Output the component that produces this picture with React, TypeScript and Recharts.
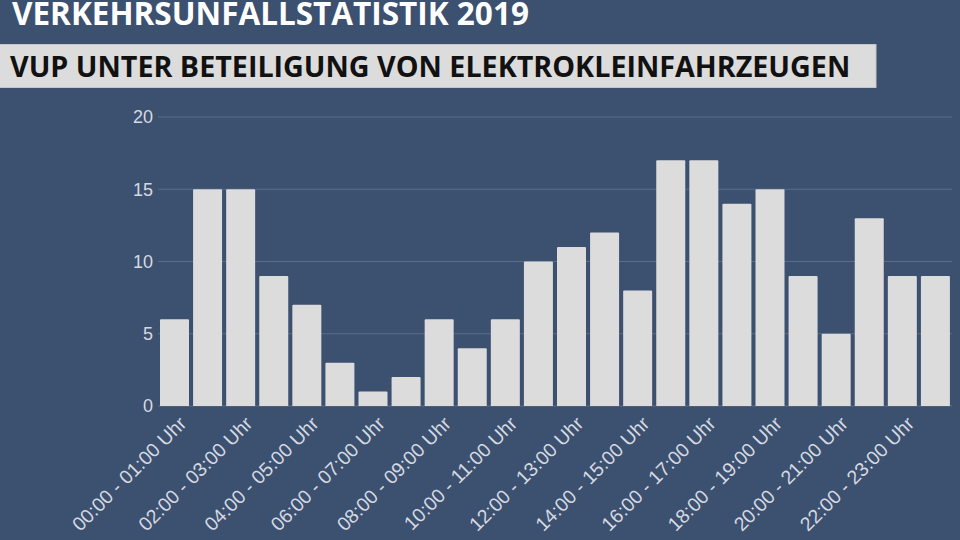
import React from "react";
import { BarChart, Bar, XAxis, YAxis, CartesianGrid } from "recharts";

const categories = [
  "00:00 - 01:00 Uhr", "01:00 - 02:00 Uhr", "02:00 - 03:00 Uhr", "03:00 - 04:00 Uhr",
  "04:00 - 05:00 Uhr", "05:00 - 06:00 Uhr", "06:00 - 07:00 Uhr", "07:00 - 08:00 Uhr",
  "08:00 - 09:00 Uhr", "09:00 - 10:00 Uhr", "10:00 - 11:00 Uhr", "11:00 - 12:00 Uhr",
  "12:00 - 13:00 Uhr", "13:00 - 14:00 Uhr", "14:00 - 15:00 Uhr", "15:00 - 16:00 Uhr",
  "16:00 - 17:00 Uhr", "17:00 - 18:00 Uhr", "18:00 - 19:00 Uhr", "19:00 - 20:00 Uhr",
  "20:00 - 21:00 Uhr", "21:00 - 22:00 Uhr", "22:00 - 23:00 Uhr", "23:00 - 24:00 Uhr",
];
const values = [6, 15, 15, 9, 7, 3, 1, 2, 6, 4, 6, 10, 11, 12, 8, 17, 17, 14, 15, 9, 5, 13, 9, 9];
const yTicks = [0, 5, 10, 15, 20];
const title = "VERKEHRSUNFALLSTATISTIK 2019";
const subtitle = "VUP UNTER BETEILIGUNG VON ELEKTROKLEINFAHRZEUGEN";

const data = categories.map((c, i) => ({ name: c, value: values[i] }));

const BG = "#3c5070";
const LABEL = "#d5d9e0";

const XTick = (props: any) => {
  const { x, y, payload } = props;
  const ax = x + 13;
  const ay = y + 19;
  return (
    <text
      x={ax}
      y={ay}
      textAnchor="end"
      fill={LABEL}
      fontSize={19.5}
      fontFamily="'Liberation Sans', Arial, sans-serif"
      transform={`rotate(-45, ${ax}, ${ay})`}
    >
      {payload.value}
    </text>
  );
};

export default function App() {
  return (
    <div style={{ position: "absolute", left: 0, top: 0, width: 960, height: 540, background: BG, overflow: "hidden" }}>
      <BarChart
        width={960}
        height={540}
        data={data}
        margin={{ top: 117, right: 8, bottom: 0, left: 0 }}
      >
        <CartesianGrid vertical={false} stroke="#5a6c8a" strokeWidth={1} />
        <XAxis
          dataKey="name"
          interval={1}
          axisLine={false}
          tickLine={false}
          tickSize={0}
          tickMargin={0}
          height={134}
          tick={<XTick />}
        />
        <YAxis
          domain={[0, 20]}
          ticks={yTicks}
          width={158}
          axisLine={false}
          tickLine={false}
          tickSize={5}
          tickMargin={0}
          tick={{ fill: LABEL, fontSize: 18, fontFamily: "'Liberation Sans', Arial, sans-serif" }}
        />
        <Bar dataKey="value" fill="#dcdcdc" barSize={29} radius={[1, 1, 0, 0]} isAnimationActive={false} />
      </BarChart>
      <svg width={960} height={100} style={{ position: "absolute", left: 0, top: 0 }}>
        <text x={12} y={25} fill="#ffffff" fontSize={31.5} fontWeight={700} fontFamily="'Open Sans', sans-serif">
          {title}
        </text>
        <rect x={-1} y={44.5} width={877} height={43} fill="#dcdcdc" stroke="#c4c6cc" strokeWidth={1} />
        <text x={10} y={76.5} fill="#111111" fontSize={28.7} fontWeight={700} fontFamily="'Open Sans', sans-serif">
          {subtitle}
        </text>
      </svg>
    </div>
  );
}
